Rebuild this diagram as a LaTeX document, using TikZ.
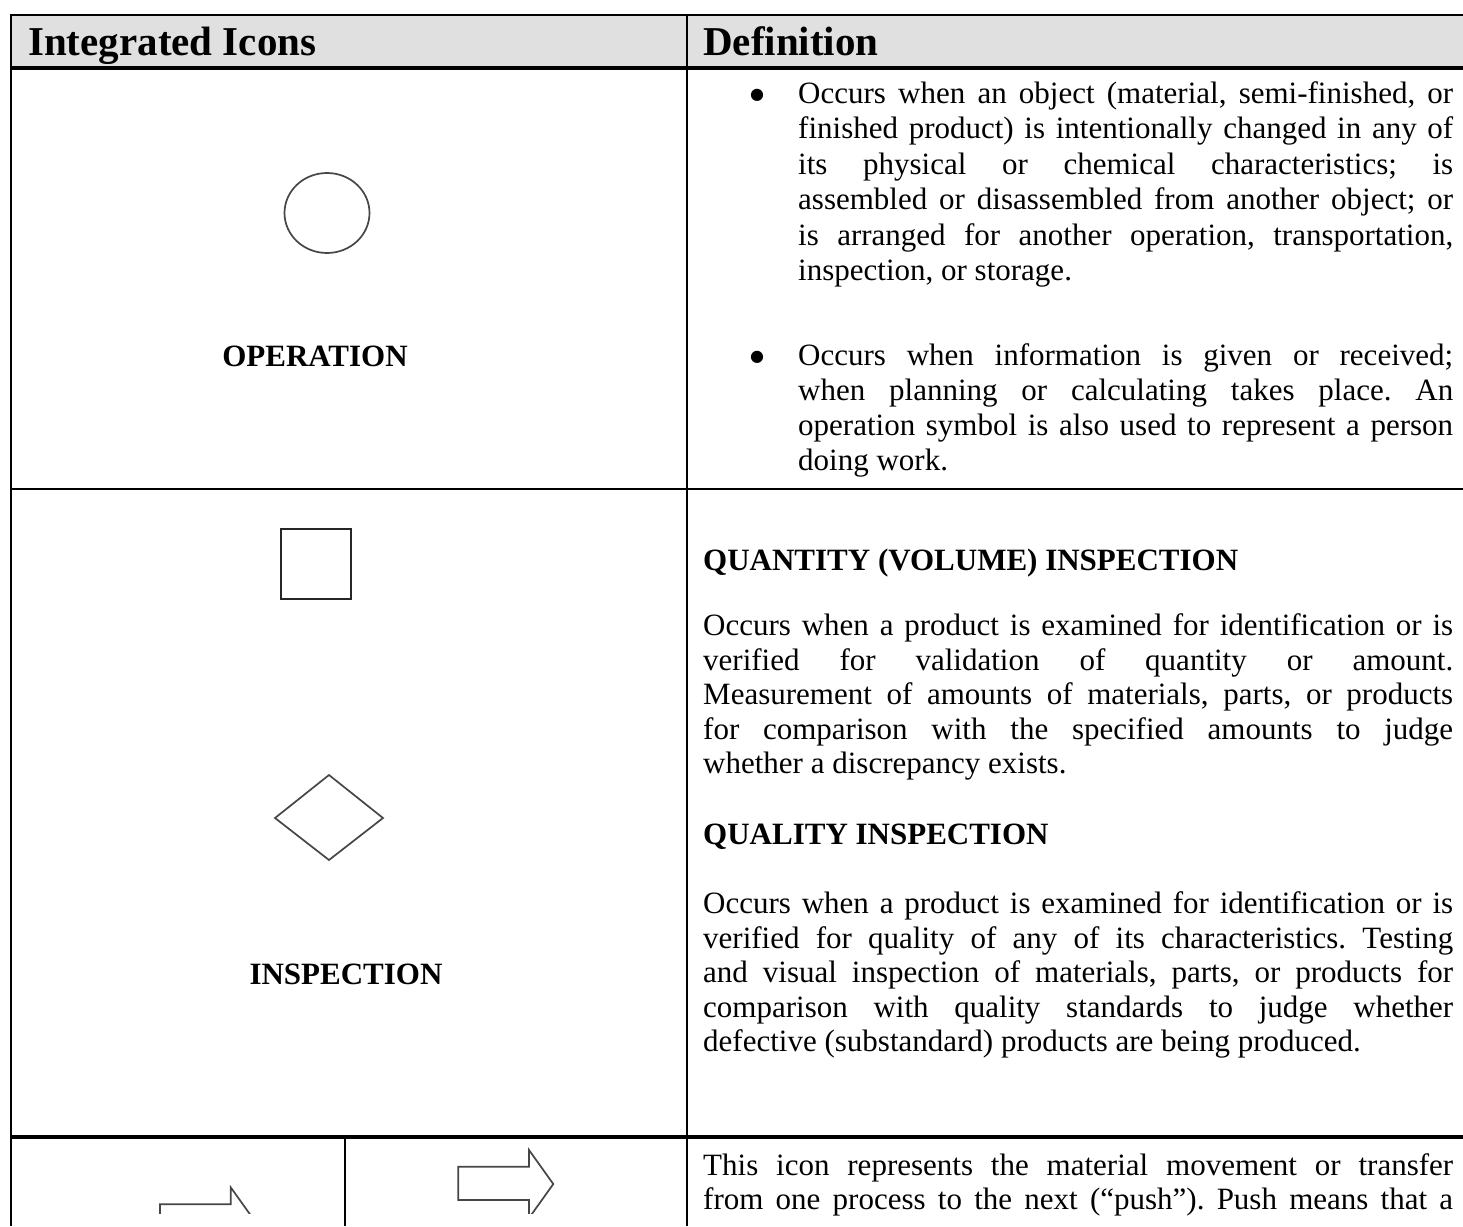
\documentclass[tikz,border=0pt]{standalone}
\usepackage{fontspec}
\setmainfont{Liberation Serif}
\newfontfamily\bulletfont{DejaVu Sans}
\frenchspacing
\definecolor{headgray}{RGB}{224,224,224}
\definecolor{iconline}{RGB}{70,70,70}
\newcommand{\bodysize}{\fontsize{31}{35}\selectfont}
\newcommand{\headsize}{\fontsize{41}{46}\selectfont}
\newcommand{\jl}[2]{\makebox[#1pt][s]{#2}}
\tikzset{
  body/.style={anchor=base west, inner sep=0pt, font=\bodysize},
  bodybold/.style={anchor=base west, inner sep=0pt, font=\bodysize\bfseries},
  iconlabel/.style={anchor=base, inner sep=0pt, font=\bodysize\bfseries},
  headtext/.style={anchor=base west, inner sep=0pt, font=\headsize\bfseries},
  bulletmark/.style={anchor=base, inner sep=0pt, font=\bulletfont\fontsize{16}{16}\selectfont},
  rule/.style={draw=black, line width=2.4pt},
  thickrule/.style={draw=black, line width=3.2pt},
  icon/.style={draw=iconline, line width=1.7pt, line join=miter},
}
\begin{document}
\begin{tikzpicture}[x=1pt, y=-1pt]
\path[use as bounding box, clip] (0,0) rectangle (1463,1226);
\fill[white] (0,0) rectangle (1463,1226);
% header
\fill[headgray] (11,15) rectangle (1463,68);
\node[headtext] (h1) at (28,55) {Integrated Icons};
\node[headtext] (h2) at (703,55) {Definition};
% grid
\draw[rule] (10,15) -- (1463,15);
\draw[thickrule] (11,68) -- (1463,68);
\draw[rule] (11,14) -- (11,1226);
\draw[rule] (687,15) -- (687,1226);
\draw[rule] (11,489) -- (1463,489);
\draw[thickrule] (11,1137) -- (1463,1137);
\draw[rule] (345,1137) -- (345,1226);
% icons
\draw[icon] (327,213) ellipse [x radius=42.5, y radius=40];
\draw[icon, draw=black!85, line width=2pt] (281,528.5) rectangle (351,599);
\draw[icon] (329,775) -- (383,818) -- (329,860) -- (275,818) -- cycle;
\begin{scope}
\clip (0,0) rectangle (1463,1213);
\draw[icon] (458.3,1166.7) -- (529,1166.7) -- (529,1150) -- (553.3,1184) -- (529,1218) -- (529,1200) -- (458.3,1200) -- cycle;
\draw[icon] (160,1204.3) -- (230.7,1204.3) -- (230.7,1187.3) -- (255,1221.3) -- (230.7,1255.3) -- (230.7,1237.3) -- (160,1237.3) -- cycle;
\end{scope}
% labels
\node[iconlabel] (opl) at (315,366) {OPERATION};
\node[iconlabel] (inl) at (346,984) {INSPECTION};
% row 1 text
\node[bulletmark] (bu1) at (757,99) {●};
\node[body] (a1) at (798,103) {\jl{655}{Occurs when an object (material, semi-finished, or}};
\node[body] (a2) at (798,138.5) {\jl{655}{finished product) is intentionally changed in any of}};
\node[body] (a3) at (798,174) {\jl{655}{its physical or chemical characteristics; is}};
\node[body] (a4) at (798,209.5) {\jl{655}{assembled or disassembled from another object; or}};
\node[body] (a5) at (798,245) {\jl{655}{is arranged for another operation, transportation,}};
\node[body] (a6) at (798,280.5) {inspection, or storage.};
\node[bulletmark] (bu2) at (757,361) {●};
\node[body] (b1) at (798,365) {\jl{655}{Occurs when information is given or received;}};
\node[body] (b2) at (798,400) {\jl{655}{when planning or calculating takes place. An}};
\node[body] (b3) at (798,435) {\jl{655}{operation symbol is also used to represent a person}};
\node[body] (b4) at (798,470) {doing work.};
% row 2 text
\node[bodybold] (q1) at (703,570) {QUANTITY (VOLUME) INSPECTION};
\node[body] (c1) at (703,635) {\jl{750}{Occurs when a product is examined for identification or is}};
\node[body] (c2) at (703,670) {\jl{750}{verified for validation of quantity or amount.}};
\node[body] (c3) at (703,704) {\jl{750}{Measurement of amounts of materials, parts, or products}};
\node[body] (c4) at (703,739) {\jl{750}{for comparison with the specified amounts to judge}};
\node[body] (c5) at (703,773) {whether a discrepancy exists.};
\node[bodybold] (q2) at (703,844) {QUALITY INSPECTION};
\node[body] (d1) at (703,913) {\jl{750}{Occurs when a product is examined for identification or is}};
\node[body] (d2) at (703,948) {\jl{750}{verified for quality of any of its characteristics. Testing}};
\node[body] (d3) at (703,982) {\jl{750}{and visual inspection of materials, parts, or products for}};
\node[body] (d4) at (703,1017) {\jl{750}{comparison with quality standards to judge whether}};
\node[body] (d5) at (703,1051) {defective (substandard) products are being produced.};
% row 3 text
\node[body] (e1) at (703,1175) {\jl{750}{This icon represents the material movement or transfer}};
\node[body] (e2) at (703,1209) {\jl{750}{from one process to the next (“push”). Push means that a}};
\end{tikzpicture}
\end{document}
